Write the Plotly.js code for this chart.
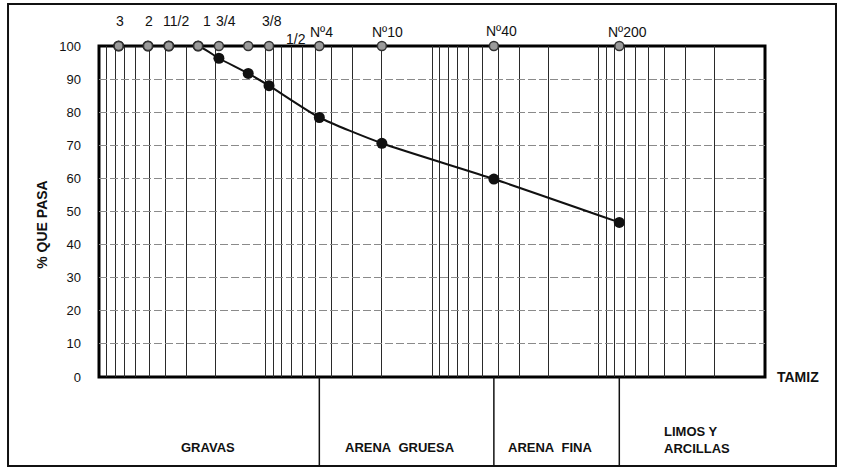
<!DOCTYPE html>
<html>
<head>
<meta charset="utf-8">
<script src="https://cdn.plot.ly/plotly-3.0.1.min.js"></script>
<style>
  html, body { margin: 0; padding: 0; background: #ffffff; }
  #chart { width: 841px; height: 468px; }
</style>
</head>
<body>
<div id="chart"></div>
<script>
// ---- Data ----
const sieveLabels = ['3', '2', '11/2', '1', '3/4', '1/2', '3/8', 'Nº4', 'Nº10', 'Nº40', 'Nº200'];
const sieveSizesMm = [76.2, 50.8, 38.1, 25.4, 19.05, 12.7, 9.525, 4.75, 2.0, 0.425, 0.075];
const percentPassing = [100, 100, 100, 100, 96.3, 91.7, 88.0, 78.4, 70.6, 59.8, 46.7];
const yTickValues = [0, 10, 20, 30, 40, 50, 60, 70, 80, 90, 100];
const zoneLabels = ['GRAVAS', 'ARENA\u00a0 GRUESA', 'ARENA\u00a0 FINA', 'LIMOS Y<br>ARCILLAS'];
const zoneBoundarySizes = [4.75, 0.425, 0.075];

// ---- Label placement (pixel offsets from each sieve marker) ----
const labelPlacement = {
  '3': [1, 25], '2': [1, 25], '11/2': [7, 25], '1': [9, 25], '3/4': [7, 25],
  '1/2': [48, 7], '3/8': [3, 25], 'Nº4': [2, 14], 'Nº10': [6, 14],
  'Nº40': [8, 15], 'Nº200': [8, 14]
};

const FONT = 'Liberation Sans, Arial, Helvetica, sans-serif';

const curve = {
  x: sieveSizesMm,
  y: percentPassing,
  type: 'scatter',
  mode: 'lines+markers',
  line: { color: '#111111', width: 2, shape: 'spline', smoothing: 0.6 },
  marker: { color: '#111111', size: 11 },
  cliponaxis: false,
  hoverinfo: 'x+y',
  showlegend: false
};

const sieveMarks = {
  x: sieveSizesMm,
  y: sieveSizesMm.map(() => 100),
  type: 'scatter',
  mode: 'markers',
  marker: { color: '#9b9b9b', size: 9, line: { color: '#333333', width: 1.5 } },
  cliponaxis: false,
  hoverinfo: 'skip',
  showlegend: false
};

const annotations = [];
sieveLabels.forEach((lab, i) => {
  const p = labelPlacement[lab];
  annotations.push({
    x: Math.log10(sieveSizesMm[i]), xref: 'x', y: 1, yref: 'paper',
    text: lab, showarrow: false, xanchor: 'center', yanchor: 'middle',
    xshift: p[0], yshift: p[1],
    font: { family: FONT, size: 14, color: '#111111' }
  });
});

const zoneTextPos = [
  { x: 0.1637, y: -0.2145, xanchor: 'center', align: 'center' },
  { x: 0.452, y: -0.2145, xanchor: 'center', align: 'center' },
  { x: 0.677, y: -0.2145, xanchor: 'center', align: 'center' },
  { x: 0.846, y: -0.190, xanchor: 'left', align: 'left' }
];
zoneLabels.forEach((t, i) => {
  const p = zoneTextPos[i];
  annotations.push({
    x: p.x, y: p.y, xref: 'paper', yref: 'paper', text: '<b>' + t + '</b>',
    showarrow: false, xanchor: p.xanchor, yanchor: 'middle', align: p.align,
    font: { family: FONT, size: 13, color: '#111111' }
  });
});

annotations.push({
  x: 1.0495, y: 0, xref: 'paper', yref: 'paper', text: '<b>TAMIZ</b>',
  showarrow: false, xanchor: 'center', yanchor: 'middle',
  font: { family: FONT, size: 14, color: '#111111' }
});
annotations.push({
  x: -0.0856, y: 0.46, xref: 'paper', yref: 'paper', text: '<b>% QUE PASA</b>',
  showarrow: false, textangle: -90, xanchor: 'center', yanchor: 'middle',
  font: { family: FONT, size: 14, color: '#111111' }
});

const shapes = [
  // plot border
  { type: 'rect', xref: 'paper', yref: 'paper', x0: 0, x1: 1, y0: 0, y1: 1,
    line: { color: '#000000', width: 3 }, layer: 'between' },
  // outer frame
  { type: 'rect', xref: 'paper', yref: 'paper', x0: -0.1366, x1: 1.1066, y0: -0.2689, y1: 1.1269,
    line: { color: '#111111', width: 2 }, layer: 'below' }
];
zoneBoundarySizes.forEach(s => {
  shapes.push({ type: 'line', xref: 'x', yref: 'paper', x0: s, x1: s, y0: 0, y1: -0.2689,
    line: { color: '#111111', width: 1.5 } });
});

const layout = {
  width: 841,
  height: 468,
  margin: { l: 99, r: 76, t: 46, b: 91, pad: 0 },
  paper_bgcolor: '#ffffff',
  plot_bgcolor: '#ffffff',
  font: { family: FONT, color: '#111111' },
  showlegend: false,
  xaxis: {
    type: 'log',
    range: [2, -2],
    dtick: 'D1',
    showticklabels: false,
    ticks: '',
    showgrid: true,
    gridcolor: '#2a2a2a',
    gridwidth: 1,
    zeroline: false,
    showline: false
  },
  yaxis: {
    range: [0, 100],
    tickvals: yTickValues,
    ticktext: yTickValues.map(String),
    ticks: '',
    ticklabelstandoff: 17,
    tickfont: { family: FONT, size: 13, color: '#111111' },
    showgrid: true,
    gridcolor: '#8a8a8a',
    gridwidth: 1,
    griddash: '8px,3px',
    zeroline: false,
    showline: false
  },
  shapes: shapes,
  annotations: annotations
};

Plotly.newPlot('chart', [curve, sieveMarks], layout, { displayModeBar: false, staticPlot: true });
</script>
</body>
</html>
